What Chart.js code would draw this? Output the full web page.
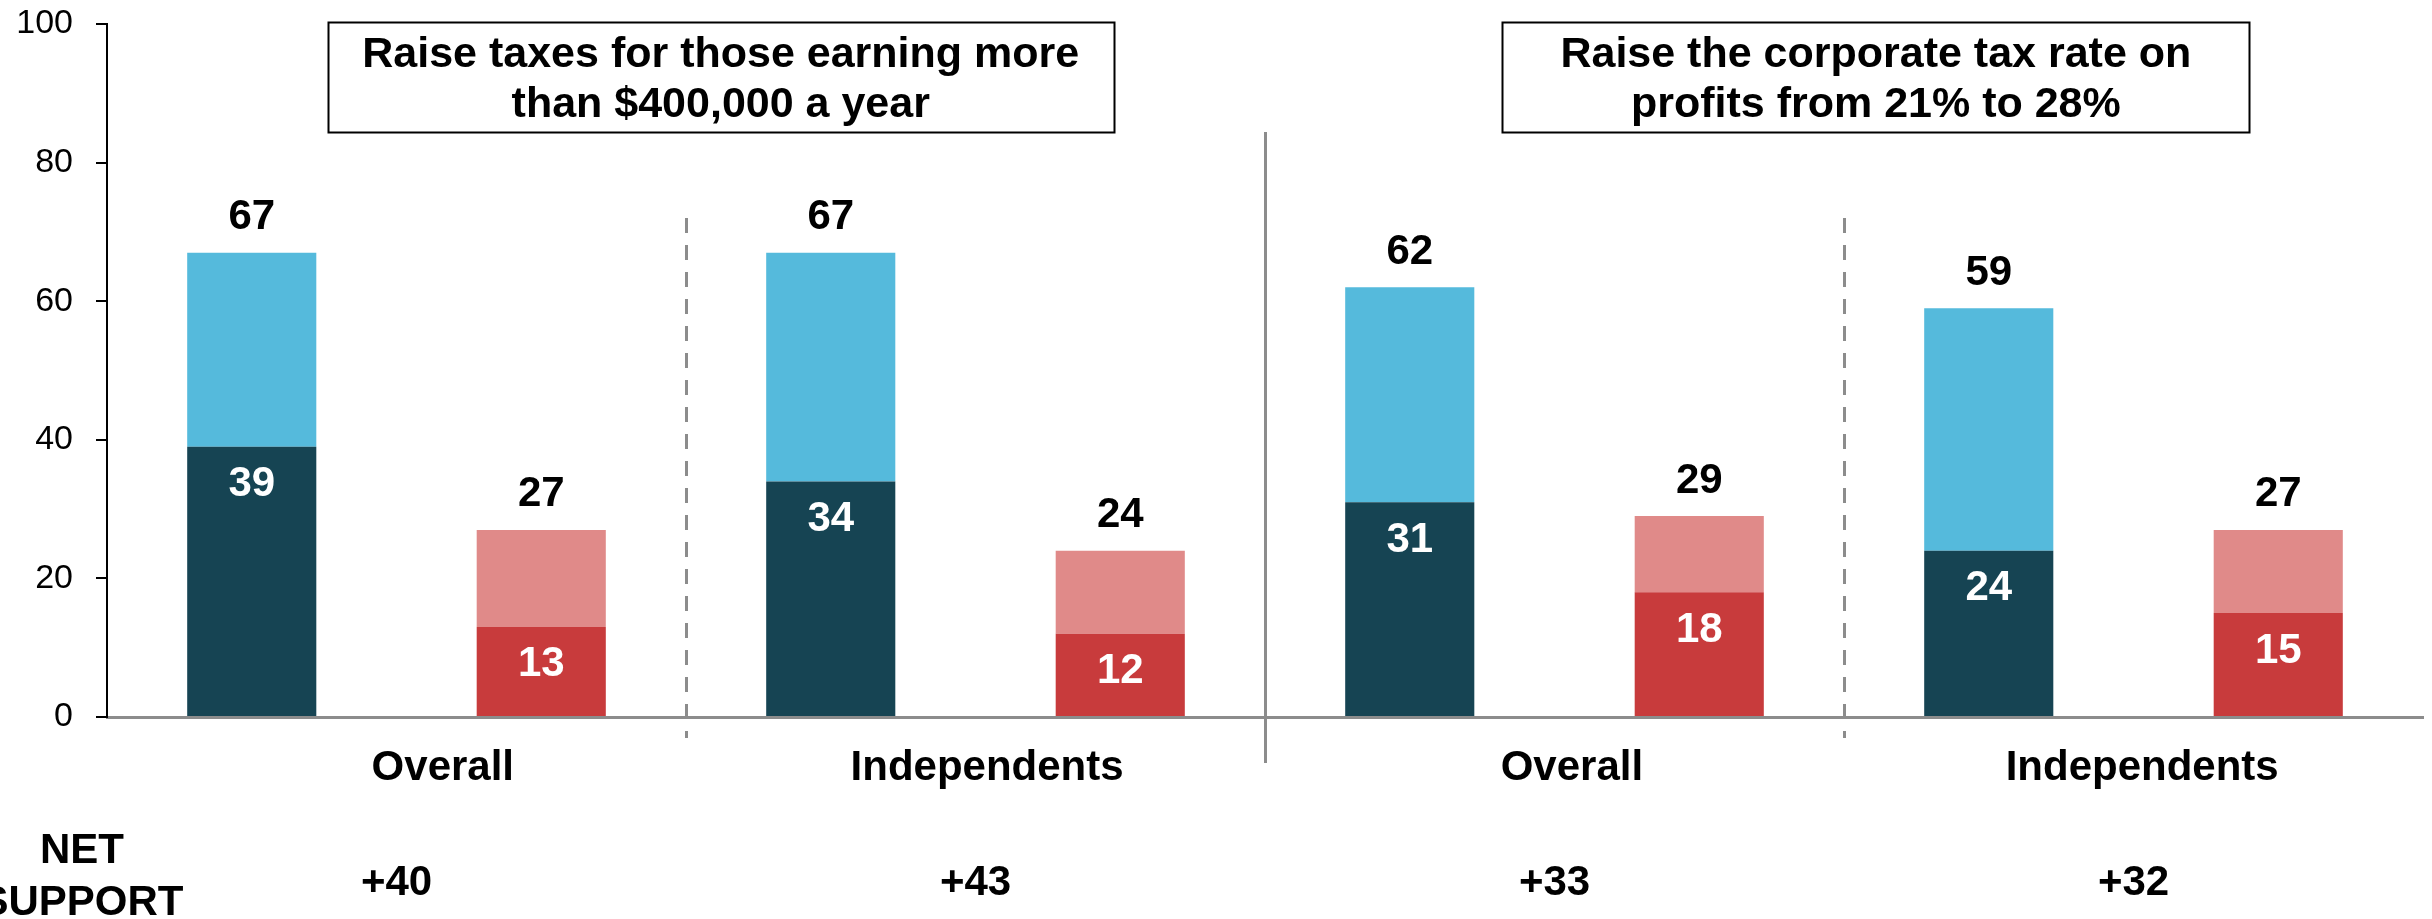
<!DOCTYPE html>
<html>
<head>
<meta charset="utf-8">
<script src="https://cdn.jsdelivr.net/npm/chart.js@4/dist/chart.umd.min.js"></script>
<style>
  html, body { margin:0; padding:0; background:#fff; }
  #wrap { width:2432px; height:919px; }
</style>
</head>
<body>
<div id="wrap"><canvas id="taxChart" width="2432" height="919"></canvas></div>
<script>
// Support / oppose bars, two questions x (Overall, Independents)
const categories = ['Overall support', 'Overall oppose', 'Independents support', 'Independents oppose',
                    'Overall support', 'Overall oppose', 'Independents support', 'Independents oppose'];
const strongVals = [39, 13, 34, 12, 31, 18, 24, 15];
const softVals   = [28, 14, 33, 12, 31, 11, 35, 12];
const totalVals  = [67, 27, 67, 24, 62, 29, 59, 27];
const groupLabels = ['Overall', 'Independents', 'Overall', 'Independents'];
const netSupport  = ['+40', '+43', '+33', '+32'];
const questionTitles = [
  ['Raise taxes for those earning more', 'than $400,000 a year'],
  ['Raise the corporate tax rate on', 'profits from 21% to 28%']
];
const yTicks = [0, 20, 40, 60, 80, 100];

// where text/dividers sit, in category units
const groupLabelPos = [0.66, 2.54, 4.56, 6.53];
const netPos = [0.5, 2.5, 4.5, 6.5];
const titlePos = [1.62, 5.61];
const titleWidth = [786, 747];
const dashedPos = [1.5, 5.5];
const solidPos = [3.5];

const FONT = "'Liberation Sans', Arial, Helvetica, sans-serif";
const strongColors = categories.map((c, i) => i % 2 === 0 ? '#164453' : '#C83B3C');
const softColors   = categories.map((c, i) => i % 2 === 0 ? '#55BADC' : '#E08A89');

const decorPlugin = {
  id: 'decor',
  beforeDatasetsDraw(chart){
    const ctx = chart.ctx, x = chart.scales.x;
    ctx.save();
    ctx.strokeStyle = '#8c8c8c';
    // dashed separators
    ctx.lineWidth = 3;
    ctx.setLineDash([15, 12]);
    dashedPos.forEach(v => {
      const px = Math.round(x.getPixelForValue(v)) + 0.5;
      ctx.beginPath(); ctx.moveTo(px, 218); ctx.lineTo(px, 738); ctx.stroke();
    });
    // solid separator between the two questions
    ctx.setLineDash([]);
    ctx.lineWidth = 3;
    solidPos.forEach(v => {
      const px = Math.round(x.getPixelForValue(v)) + 0.5;
      ctx.beginPath(); ctx.moveTo(px, 132); ctx.lineTo(px, 763); ctx.stroke();
    });
    ctx.restore();
  },
  afterDatasetsDraw(chart){
    const ctx = chart.ctx, x = chart.scales.x;
    const strongMeta = chart.getDatasetMeta(0), softMeta = chart.getDatasetMeta(1);
    ctx.save();
    ctx.textAlign = 'center';
    ctx.textBaseline = 'middle';
    ctx.font = 'bold 42px ' + FONT;
    strongMeta.data.forEach((bar, i) => {
      ctx.fillStyle = '#ffffff';
      ctx.fillText(String(strongVals[i]), bar.x, bar.y + 38);
      ctx.fillStyle = '#000000';
      ctx.fillText(String(totalVals[i]), bar.x, softMeta.data[i].y - 35);
    });
    // group labels under the axis
    groupLabels.forEach((t, i) => ctx.fillText(t, x.getPixelForValue(groupLabelPos[i]), 768));
    // net support row
    netSupport.forEach((t, i) => ctx.fillText(t, x.getPixelForValue(netPos[i]), 883));
    ctx.fillText('NET', 82, 851);
    ctx.fillText('SUPPORT', 82, 903);
    // question title boxes
    ctx.font = 'bold 43px ' + FONT;
    questionTitles.forEach((lines, i) => {
      const cx = x.getPixelForValue(titlePos[i]);
      const w = titleWidth[i];
      ctx.fillStyle = '#fff';
      ctx.fillRect(cx - w / 2, 22, w, 110);
      ctx.strokeStyle = '#000';
      ctx.lineWidth = 2;
      ctx.strokeRect(Math.round(cx - w / 2) + 0.5, 22.5, w, 110);
      ctx.fillStyle = '#000';
      ctx.fillText(lines[0], cx, 55);
      ctx.fillText(lines[1], cx, 105);
    });
    ctx.restore();
  }
};

new Chart(document.getElementById('taxChart'), {
  type: 'bar',
  data: {
    labels: categories,
    datasets: [
      { label: 'Strongly', data: strongVals, backgroundColor: strongColors, borderWidth: 0 },
      { label: 'Somewhat', data: softVals, backgroundColor: softColors, borderWidth: 0 }
    ]
  },
  options: {
    responsive: false,
    devicePixelRatio: 1,
    animation: false,
    layout: { padding: { top: 24, right: 9, bottom: 202, left: 0 } },
    plugins: { legend: { display: false }, tooltip: { enabled: false } },
    datasets: { bar: { barPercentage: 0.446, categoryPercentage: 1 } },
    scales: {
      x: {
        stacked: true,
        ticks: { display: false },
        grid: { display: false },
        border: { display: true, color: '#8c8c8c', width: 3 },
        afterFit(s){ s.height = 0; s.paddingLeft = 0; s.paddingRight = 0; }
      },
      y: {
        stacked: true,
        min: 0, max: 100,
        afterBuildTicks(s){ s.ticks = yTicks.map(v => ({ value: v })); },
        ticks: { color: '#000', padding: 23, font: { family: FONT, size: 34 } },
        grid: { drawOnChartArea: false, drawTicks: true, tickLength: 11, color: '#000', lineWidth: 2 },
        border: { display: true, color: '#000', width: 2 },
        afterFit(s){ s.width = 107; s.paddingTop = 0; s.paddingBottom = 0; }
      }
    }
  },
  plugins: [decorPlugin]
});
</script>
</body>
</html>
